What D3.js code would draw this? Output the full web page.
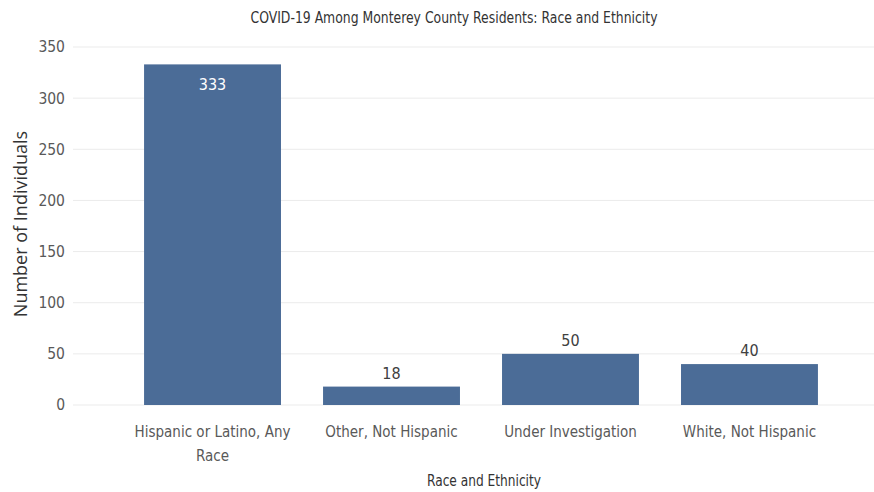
<!DOCTYPE html>
<html>
<head>
<meta charset="utf-8">
<script src="https://cdn.jsdelivr.net/npm/d3@7"></script>
<style>
  body { margin: 0; background: #fff; }
  .narrow { font-family: "Liberation Sans Narrow", "DejaVu Sans Condensed", "Roboto Condensed", sans-serif; }
</style>
</head>
<body>
<script>
// chart data
var categories = ["Hispanic or Latino, Any Race", "Other, Not Hispanic", "Under Investigation", "White, Not Hispanic"];
var counts = [333, 18, 50, 40];
var yTicks = [0, 50, 100, 150, 200, 250, 300, 350];

var svgWidth = 874;
var svgHeight = 492;

var svg = d3.select("body")
  .append("svg")
  .attr("width", svgWidth)
  .attr("height", svgHeight);

var data = categories.map(function(c, i) { return { name: c, value: counts[i] }; });

// scales
var xScale = d3.scaleBand()
  .domain(categories)
  .range([102, 860])
  .paddingInner(0.235)
  .paddingOuter(0.235);

var yScale = d3.scaleLinear()
  .domain([0, 350])
  .range([405, 47]);

// gridlines
svg.append("g")
  .selectAll("line")
  .data(yTicks)
  .enter()
  .append("line")
  .attr("x1", 73)
  .attr("x2", 874)
  .attr("y1", d => yScale(d))
  .attr("y2", d => yScale(d))
  .attr("stroke", "#ebebeb")
  .attr("stroke-width", 1);

// y axis labels
var yAxis = d3.axisLeft(yScale).tickValues(yTicks).tickSize(0).tickPadding(0);
var yG = svg.append("g")
  .attr("transform", "translate(65,0)")
  .attr("class", "narrow")
  .call(yAxis);
yG.select(".domain").remove();
yG.selectAll("text")
  .attr("fill", "#595959")
  .style("font-size", "15.5px");

// bars
svg.append("g")
  .selectAll("rect")
  .data(data)
  .enter()
  .append("rect")
  .attr("x", d => xScale(d.name))
  .attr("y", d => yScale(d.value))
  .attr("width", xScale.bandwidth())
  .attr("height", d => yScale(0) - yScale(d.value))
  .attr("fill", "#4b6c97");

// value labels: inside for the tall bar, above for the rest
svg.append("g")
  .attr("class", "narrow")
  .selectAll("text")
  .data(data)
  .enter()
  .append("text")
  .attr("x", d => xScale(d.name) + xScale.bandwidth() / 2)
  .attr("y", function(d) {
    return d.value > 300 ? yScale(d.value) + 26 : yScale(d.value) - 8;
  })
  .attr("text-anchor", "middle")
  .attr("fill", d => d.value > 300 ? "#ffffff" : "#404040")
  .style("font-size", "16px")
  .text(d => d.value);

// x axis labels (wrapped)
var xG = svg.append("g")
  .attr("class", "narrow")
  .attr("transform", "translate(0,437)");

xG.selectAll("text")
  .data(categories)
  .enter()
  .append("text")
  .attr("x", d => xScale(d) + xScale.bandwidth() / 2)
  .attr("y", 0)
  .attr("text-anchor", "middle")
  .attr("fill", "#595959")
  .style("font-size", "15px")
  .text(d => d)
  .each(function(d) { wrap(d3.select(this), 175); });

function wrap(text, width) {
  var words = text.text().split(/\s+/);
  var x = text.attr("x");
  text.text(null);
  var line = [];
  var tspan = text.append("tspan").attr("x", x).attr("dy", 0);
  words.forEach(function(w) {
    line.push(w);
    tspan.text(line.join(" "));
    if (tspan.node().getComputedTextLength() > width && line.length > 1) {
      line.pop();
      tspan.text(line.join(" "));
      line = [w];
      tspan = text.append("tspan").attr("x", x).attr("dy", "1.6em").text(w);
    }
  });
}

// axis titles
svg.append("text")
  .attr("class", "narrow")
  .attr("x", 484)
  .attr("y", 486)
  .attr("text-anchor", "middle")
  .attr("fill", "#333")
  .attr("textLength", 114)
  .attr("lengthAdjust", "spacingAndGlyphs")
  .style("font-size", "16px")
  .text("Race and Ethnicity");

svg.append("text")
  .attr("transform", "translate(27,224) rotate(-90)")
  .attr("text-anchor", "middle")
  .attr("fill", "#333")
  .style("font-family", "'Open Sans', sans-serif")
  .style("font-size", "18px")
  .text("Number of Individuals");

// title
svg.append("text")
  .attr("class", "narrow")
  .attr("x", 454)
  .attr("y", 23)
  .attr("text-anchor", "middle")
  .attr("fill", "#333")
  .attr("textLength", 407)
  .attr("lengthAdjust", "spacingAndGlyphs")
  .style("font-size", "16px")
  .text("COVID-19 Among Monterey County Residents: Race and Ethnicity");
</script>
</body>
</html>
